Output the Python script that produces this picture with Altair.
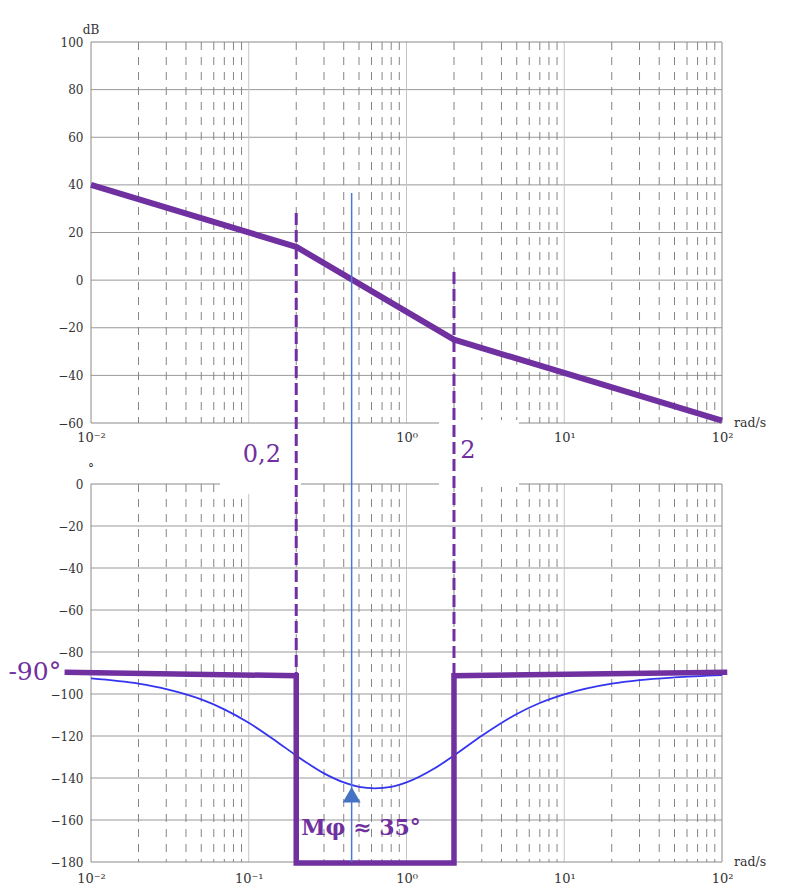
import altair as alt
import pandas as pd

# ---------------- data ----------------
# magnitude asymptotic curve (dB)
mag_w = [0.01, 0.2, 2, 100]
mag_db = [40, 14, -25, -59]

phase_w = [0.01, 0.02, 0.03, 0.05, 0.07, 0.1, 0.15, 0.2, 0.3, 0.4, 0.5, 0.63,
           0.8, 1, 1.5, 2, 3, 5, 7, 10, 20, 30, 50, 100]
phase_deg = [-92.6, -95.1, -97.7, -102.6, -107.3, -113.7, -122.6, -129.3,
             -137.8, -142.1, -144.2, -144.9, -144.2, -142.1, -135.5, -129.3,
             -119.9, -109.5, -104.3, -100.2, -95.1, -93.4, -92.1, -91.0]

# phase asymptotic curve (thick purple)
asym_w = [0.0068, 0.2, 0.2, 2, 2, 108]
asym_deg = [-89.7, -91.3, -180.5, -180.5, -91.3, -89.7]

# dashed corner-frequency markers (drawn in phase coordinates)
corner_w = [0.2, 2]
corner_top = [129, 101]
corner_bottom = [-91.3, -91.3]

# crossover frequency marker
cross_w = [0.449]
cross_top = [138.6]
cross_bottom = [-180]
arrow_deg = [-148]

# white label boxes
box_w1 = [0.0658, 1.607]
box_w2 = [0.214, 5.16]
box_d1 = [27.6, 30.5]
box_d2 = [-4.8, -1.4]

# axis ticks / grid
top_x_ticks = [0.01, 1, 10, 100]
bottom_x_ticks = [0.01, 0.1, 1, 10, 100]
minor_x = [0.02, 0.03, 0.04, 0.05, 0.06, 0.07, 0.08, 0.09,
           0.2, 0.3, 0.4, 0.5, 0.6, 0.7, 0.8, 0.9,
           2, 3, 4, 5, 6, 7, 8, 9,
           20, 30, 40, 50, 60, 70, 80, 90]
inner_decades = [0.1, 1, 10]
mag_ticks = [100, 80, 60, 40, 20, 0, -20, -40, -60]
mag_grid = [80, 60, 40, 20, 0, -20, -40]
phase_ticks = [0, -20, -40, -60, -80, -100, -120, -140, -160, -180]
phase_grid = [-20, -40, -60, -80, -100, -120, -140, -160]
frame_x = [0.01, 100]

PURPLE = "#7030a0"
SERIF = "DejaVu Serif"
W = 631

label_expr = ("datum.value < 0.05 ? '10⁻²' : datum.value < 0.5 ? '10⁻¹' : "
              "datum.value < 5 ? '10⁰' : datum.value < 50 ? '10¹' : '10²'")

xscale = alt.Scale(type="log", domain=[0.01, 100], nice=False)


def xaxis(vals, pad):
    return alt.Axis(values=vals, labelExpr=label_expr, title=None, grid=False,
                    ticks=False, domain=False, labelFont=SERIF, labelFontSize=13,
                    labelColor="#333", labelPadding=pad, labelFlush=False,
                    labelOverlap=False)


def yaxis(vals):
    return alt.Axis(values=vals, title=None, grid=False, ticks=False, domain=False,
                    labelFont=SERIF, labelFontSize=12, labelColor="#333",
                    labelPadding=8, labelOverlap=False)


def panel(ydomain, yvals, xvals, hgrid, ytop, ybot, pad):
    ys = alt.Scale(domain=ydomain, nice=False, zero=False)
    X = lambda f: alt.X(f, scale=xscale, axis=xaxis(xvals, pad))
    Y = lambda f: alt.Y(f, scale=ys, axis=yaxis(yvals))
    layers = [
        alt.Chart(pd.DataFrame({"v": hgrid})).mark_rule(color="#999999", strokeWidth=1)
        .encode(y=Y("v:Q")),
        alt.Chart(pd.DataFrame({"v": minor_x})).mark_rule(color="#858585", strokeWidth=1,
                                                          strokeDash=[8, 7])
        .encode(x=X("v:Q")),
        alt.Chart(pd.DataFrame({"v": inner_decades})).mark_rule(color="#c4c4c4", strokeWidth=1)
        .encode(x=X("v:Q")),
        alt.Chart(pd.DataFrame({"v": frame_x})).mark_rule(color="#8a8a8a", strokeWidth=1)
        .encode(x=X("v:Q")),
        alt.Chart(pd.DataFrame({"v": [ytop, ybot]})).mark_rule(color="#8a8a8a", strokeWidth=1)
        .encode(y=Y("v:Q")),
    ]
    return X, Y, layers


# ---------------- magnitude panel ----------------
X, Y, top_layers = panel([-60, 100], mag_ticks, top_x_ticks, mag_grid, 100, -60, 8)
mag = alt.Chart(pd.DataFrame({"w": mag_w, "db": mag_db})).mark_line(
    color=PURPLE, strokeWidth=6, strokeCap="butt", strokeJoin="round"
).encode(x=X("w:Q"), y=Y("db:Q"))
db_lbl = alt.Chart(pd.DataFrame({"w": [0.01], "y": [105], "t": ["dB"]})).mark_text(
    font=SERIF, fontSize=12, color="#333", align="center", baseline="middle"
).encode(x=X("w:Q"), y=Y("y:Q"), text="t:N")
rad_top = alt.Chart(pd.DataFrame({"w": [100], "y": [-60], "t": ["rad/s"]})).mark_text(
    font=SERIF, fontSize=12.5, color="#333", align="left", baseline="middle", dx=12
).encode(x=X("w:Q"), y=Y("y:Q"), text="t:N")
top = alt.layer(*top_layers, mag, db_lbl, rad_top).properties(width=W, height=381)

# ---------------- phase panel ----------------
X, Y, bot_layers = panel([-180, 0], phase_ticks, bottom_x_ticks, phase_grid, 0, -180, 10)
boxes = alt.Chart(pd.DataFrame({"a": box_w1, "b": box_w2, "c": box_d1, "d": box_d2})).mark_rect(
    color="white"
).encode(x=X("a:Q"), x2="b:Q", y=Y("c:Q"), y2="d:Q")
curve = alt.Chart(pd.DataFrame({"w": phase_w, "p": phase_deg})).mark_line(
    color="#3434f0", strokeWidth=1.8, interpolate="monotone"
).encode(x=X("w:Q"), y=Y("p:Q"))
asym = alt.Chart(pd.DataFrame({"w": asym_w, "p": asym_deg, "i": list(range(len(asym_w)))})).mark_line(
    color=PURPLE, strokeWidth=5.5, strokeCap="butt", strokeJoin="miter"
).encode(x=X("w:Q"), y=Y("p:Q"), order="i:Q")
corners = alt.Chart(pd.DataFrame({"w": corner_w, "a": corner_top, "b": corner_bottom})).mark_rule(
    color=PURPLE, strokeWidth=3, strokeDash=[12, 5]
).encode(x=X("w:Q"), y=Y("a:Q"), y2="b:Q")
cross = alt.Chart(pd.DataFrame({"w": cross_w, "a": cross_top, "b": cross_bottom})).mark_rule(
    color="#4a78d4", strokeWidth=1.5
).encode(x=X("w:Q"), y=Y("a:Q"), y2="b:Q")
arrow = alt.Chart(pd.DataFrame({"w": cross_w, "p": arrow_deg})).mark_point(
    shape="triangle-up", filled=True, size=320, color="#4472c4", opacity=1
).encode(x=X("w:Q"), y=Y("p:Q"))

texts_df = pd.DataFrame({
    "w": [0.121, 2.45, 0.0044],
    "p": [13.8, 15.7, -89.5],
    "t": ["0,2", "2", "-90°"],
    "s": [24, 24, 25],
})
ann = alt.Chart(texts_df).mark_text(
    font=SERIF, color=PURPLE, align="center", baseline="middle"
).encode(x=X("w:Q"), y=Y("p:Q"), text="t:N", size=alt.Size("s:Q", scale=None, legend=None))
mphi = alt.Chart(pd.DataFrame({"w": [0.515], "p": [-163.8], "t": ["Mφ ≈ 35°"]})).mark_text(
    font=SERIF, fontSize=22, fontWeight="bold", color=PURPLE, align="center", baseline="middle"
).encode(x=X("w:Q"), y=Y("p:Q"), text="t:N")
deg_lbl = alt.Chart(pd.DataFrame({"w": [0.01], "p": [7], "t": ["°"]})).mark_text(
    font=SERIF, fontSize=12, color="#333", align="center", baseline="middle"
).encode(x=X("w:Q"), y=Y("p:Q"), text="t:N")
rad_bot = alt.Chart(pd.DataFrame({"w": [100], "p": [-180], "t": ["rad/s"]})).mark_text(
    font=SERIF, fontSize=12.5, color="#333", align="left", baseline="middle", dx=12
).encode(x=X("w:Q"), y=Y("p:Q"), text="t:N")

bottom = alt.layer(*bot_layers, boxes, curve, asym, corners, cross, arrow, ann, mphi,
                   deg_lbl, rad_bot).properties(width=W, height=378)

chart = alt.vconcat(top, bottom, spacing=61, bounds="flush").properties(
    padding={"top": 16, "left": 0, "right": 4, "bottom": 0}
).configure_view(stroke=None)

chart.save("out.html", embed_options={"renderer": "svg", "actions": False})
